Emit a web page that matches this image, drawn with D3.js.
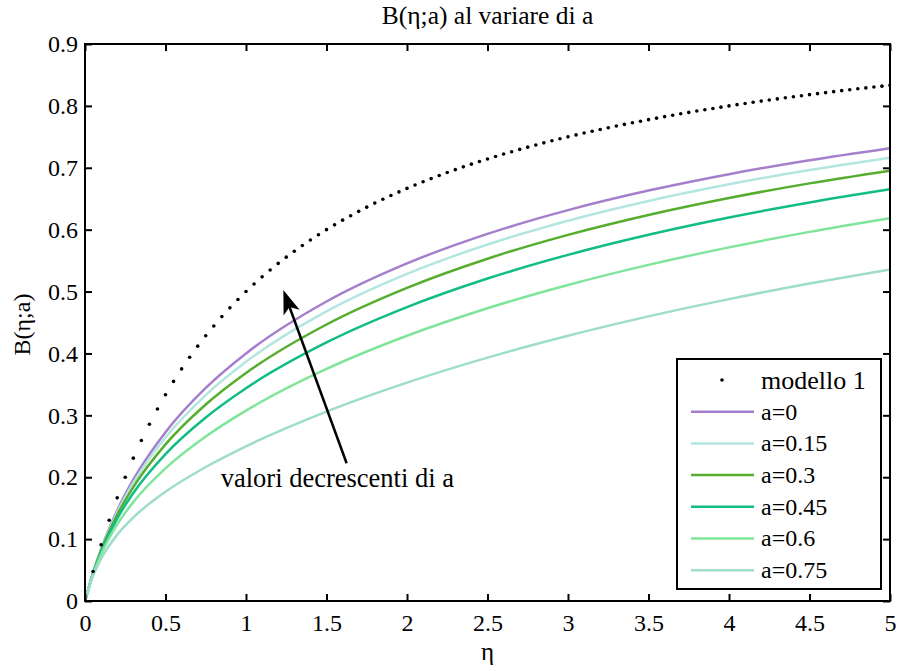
<!DOCTYPE html>
<html><head><meta charset="utf-8">
<script src="https://cdn.jsdelivr.net/npm/d3@7"></script>
</head><body style="margin:0">
<svg id="c" width="899" height="671"></svg>
<script>
// ---------------- data ----------------
const title = "B(η;a) al variare di a";
const xLabel = "η";
const yLabel = "B(η;a)";
const xTicks = [0,0.5,1,1.5,2,2.5,3,3.5,4,4.5,5];
const xTickLabels = ["0","0.5","1","1.5","2","2.5","3","3.5","4","4.5","5"];
const yTicks = [0,0.1,0.2,0.3,0.4,0.5,0.6,0.7,0.8,0.9];
const yTickLabels = ["0","0.1","0.2","0.3","0.4","0.5","0.6","0.7","0.8","0.9"];

const etaGrid = [0,0.05,0.1,0.2,0.3,0.5,0.75,1,1.5,2,2.5,3,3.5,4,4.5,5];
const seriesNames = ["a=0","a=0.15","a=0.3","a=0.45","a=0.6","a=0.75"];
const b_a0   = [0,0.0456,0.0840,0.1463,0.1960,0.2727,0.3443,0.4000,0.4839,0.5455,0.5932,0.6316,0.6632,0.6897,0.7122,0.7317];
const b_a015 = [0,0.0452,0.0829,0.1433,0.1909,0.2643,0.3327,0.3864,0.4679,0.5285,0.5760,0.6145,0.6464,0.6733,0.6963,0.7163];
const b_a03  = [0,0.0447,0.0813,0.1391,0.1841,0.2530,0.3175,0.3684,0.4468,0.5060,0.5531,0.5916,0.6238,0.6512,0.6748,0.6954];
const b_a045 = [0,0.0440,0.0790,0.1331,0.1745,0.2374,0.2965,0.3438,0.4177,0.4748,0.5210,0.5593,0.5918,0.6197,0.6440,0.6653];
const b_a06  = [0,0.0428,0.0753,0.1237,0.1598,0.2143,0.2658,0.3077,0.3750,0.4286,0.4730,0.5106,0.5431,0.5714,0.5964,0.6186];
const b_a075 = [0,0.0403,0.0683,0.1071,0.1350,0.1765,0.2165,0.2500,0.3061,0.3529,0.3933,0.4286,0.4599,0.4878,0.5130,0.5357];
const seriesColors = ["#a67fcc","#b4e6e0","#56ad2e","#10bd86","#7fe59a","#9edccb"];

const modelName = "modello 1";
const modelEta = [0,0.05,0.1,0.15,0.2,0.25,0.3,0.35,0.4,0.45,0.5,0.55,0.6,0.65,0.7,0.75,0.8,0.85,0.9,0.95,
 1,1.05,1.1,1.15,1.2,1.25,1.3,1.35,1.4,1.45,1.5,1.55,1.6,1.65,1.7,1.75,1.8,1.85,1.9,1.95,
 2,2.05,2.1,2.15,2.2,2.25,2.3,2.35,2.4,2.45,2.5,2.55,2.6,2.65,2.7,2.75,2.8,2.85,2.9,2.95,
 3,3.05,3.1,3.15,3.2,3.25,3.3,3.35,3.4,3.45,3.5,3.55,3.6,3.65,3.7,3.75,3.8,3.85,3.9,3.95,
 4,4.05,4.1,4.15,4.2,4.25,4.3,4.35,4.4,4.45,4.5,4.55,4.6,4.65,4.7,4.75,4.8,4.85,4.9,4.95,5];
const modelB = [0,0.0476,0.0909,0.1304,0.1667,0.2,0.2308,0.2593,0.2857,0.3103,0.3333,0.3548,0.375,0.3939,0.4118,0.4286,0.4444,0.4595,0.4737,0.4872,
 0.5,0.5122,0.5238,0.5349,0.5455,0.5556,0.5652,0.5745,0.5833,0.5918,0.6,0.6078,0.6154,0.6226,0.6296,0.6364,0.6429,0.6491,0.6552,0.6610,
 0.6667,0.6721,0.6774,0.6825,0.6875,0.6923,0.6970,0.7015,0.7059,0.7101,0.7143,0.7183,0.7222,0.7260,0.7297,0.7333,0.7368,0.7403,0.7436,0.7468,
 0.75,0.7531,0.7561,0.7590,0.7619,0.7647,0.7674,0.7701,0.7727,0.7753,0.7778,0.7802,0.7826,0.7849,0.7872,0.7895,0.7917,0.7938,0.7959,0.7980,
 0.8,0.8020,0.8039,0.8058,0.8077,0.8095,0.8113,0.8131,0.8148,0.8165,0.8182,0.8198,0.8214,0.8230,0.8246,0.8261,0.8276,0.8291,0.8305,0.8319,0.8333];

const annotationText = "valori decrescenti di a";
const arrowTail = [1.625, 0.2225];
const arrowTip  = [1.232, 0.5024];
const annotationPos = [0.843, 0.1847];

// ---------------- chart ----------------
const FONT = "Liberation Serif";
const seriesValues = [b_a0,b_a015,b_a03,b_a045,b_a06,b_a075];
const svg = d3.select("#c");
svg.append("rect").attr("width",899).attr("height",671).attr("fill","#fff");

const x = d3.scaleLinear().domain([0,5]).range([85,890]);
const y = d3.scaleLinear().domain([0,0.9]).range([601,44]);

function txt(sel, size){
  return sel.style("font-family",FONT).style("font-size",size+"px").attr("fill","#000");
}

svg.append("defs").append("clipPath").attr("id","clip")
  .append("rect").attr("x",x(0)).attr("y",y(0.9)).attr("width",x(5)-x(0)).attr("height",y(0)-y(0.9));

const plot = svg.append("g").attr("clip-path","url(#clip)");
const line = d3.line().x(d=>x(d[0])).y(d=>y(d[1])).curve(d3.curveMonotoneX);

seriesValues.forEach((vals,i)=>{
  plot.append("path")
    .datum(etaGrid.map((e,j)=>[e,vals[j]]))
    .attr("d",line).attr("fill","none")
    .attr("stroke",seriesColors[i]).attr("stroke-width",2.5)
    .attr("stroke-linejoin","round");
});

plot.selectAll("circle.m").data(modelEta.map((e,j)=>[e,modelB[j]])).enter()
  .append("circle").attr("class","m")
  .attr("cx",d=>x(d[0])).attr("cy",d=>y(d[1])).attr("r",1.8).attr("fill","#000");

// annotation arrow
(function(){
  const tx=x(arrowTail[0]), ty=y(arrowTail[1]);
  const hx=x(arrowTip[0]), hy=y(arrowTip[1]);
  const dx=hx-tx, dy=hy-ty, L=Math.hypot(dx,dy);
  const ux=dx/L, uy=dy/L, px=-uy, py=ux;
  const hl=24, hw=8.5, notch=6;
  const bx=hx-ux*hl, by=hy-uy*hl;
  const nx=hx-ux*(hl-notch), ny=hy-uy*(hl-notch);
  svg.append("line").attr("x1",tx).attr("y1",ty).attr("x2",nx).attr("y2",ny)
    .attr("stroke","#000").attr("stroke-width",2.5);
  svg.append("path")
    .attr("d",`M${hx},${hy}L${bx+px*hw},${by+py*hw}L${nx},${ny}L${bx-px*hw},${by-py*hw}Z`)
    .attr("fill","#000");
  txt(svg.append("text"),26.5).attr("x",x(annotationPos[0])).attr("y",y(annotationPos[1]))
    .text(annotationText);
})();

// axes
function styleAxis(g){
  g.select(".domain").remove();
  g.selectAll(".tick line").attr("stroke","#000").attr("stroke-width",2);
  g.attr("font-family",null).attr("font-size",null);
  txt(g.selectAll("text"),24);
}
svg.append("g").attr("transform",`translate(0,${y(0)})`)
  .call(d3.axisBottom(x).tickValues(xTicks).tickFormat((d,i)=>xTickLabels[i]).tickSizeInner(-7).tickSizeOuter(0).tickPadding(13))
  .call(styleAxis);
svg.append("g").attr("transform",`translate(${x(0)},0)`)
  .call(d3.axisLeft(y).tickValues(yTicks).tickFormat((d,i)=>yTickLabels[i]).tickSizeInner(-7).tickSizeOuter(0).tickPadding(7))
  .call(styleAxis);
svg.append("g").attr("transform",`translate(0,${y(0.9)})`)
  .call(d3.axisTop(x).tickValues(xTicks).tickFormat("").tickSizeInner(-7).tickSizeOuter(0))
  .call(styleAxis);
svg.append("g").attr("transform",`translate(${x(5)},0)`)
  .call(d3.axisRight(y).tickValues(yTicks).tickFormat("").tickSizeInner(-7).tickSizeOuter(0))
  .call(styleAxis);

svg.append("rect").attr("x",x(0)).attr("y",y(0.9)).attr("width",x(5)-x(0)).attr("height",y(0)-y(0.9))
  .attr("fill","none").attr("stroke","#000").attr("stroke-width",2);

// titles
txt(svg.append("text"),25.5).attr("x",(x(0)+x(5))/2).attr("y",24).attr("text-anchor","middle")
  .text(title);
txt(svg.append("text"),25).attr("x",(x(0)+x(5))/2).attr("y",660).attr("text-anchor","middle")
  .text(xLabel);
txt(svg.append("text"),24).attr("transform",`translate(30,${(y(0)+y(0.9))/2+2}) rotate(-90)`)
  .attr("text-anchor","middle").text(yLabel);

// legend
const lg = svg.append("g").attr("transform","translate(677,359)");
lg.append("rect").attr("width",204).attr("height",230).attr("fill","#fff")
  .attr("stroke","#000").attr("stroke-width",2);
const rowY = i => 21 + i*31.7;
lg.append("circle").attr("cx",45).attr("cy",rowY(0)).attr("r",1.8).attr("fill","#000");
txt(lg.append("text"),26).attr("x",84).attr("y",rowY(0)).attr("dy","0.33em").text(modelName);
seriesNames.forEach((n,i)=>{
  lg.append("line").attr("x1",14).attr("x2",77).attr("y1",rowY(i+1)).attr("y2",rowY(i+1))
    .attr("stroke",seriesColors[i]).attr("stroke-width",2.5);
  txt(lg.append("text"),24).attr("x",84).attr("y",rowY(i+1)).attr("dy","0.33em").text(n);
});
</script>
</body></html>
